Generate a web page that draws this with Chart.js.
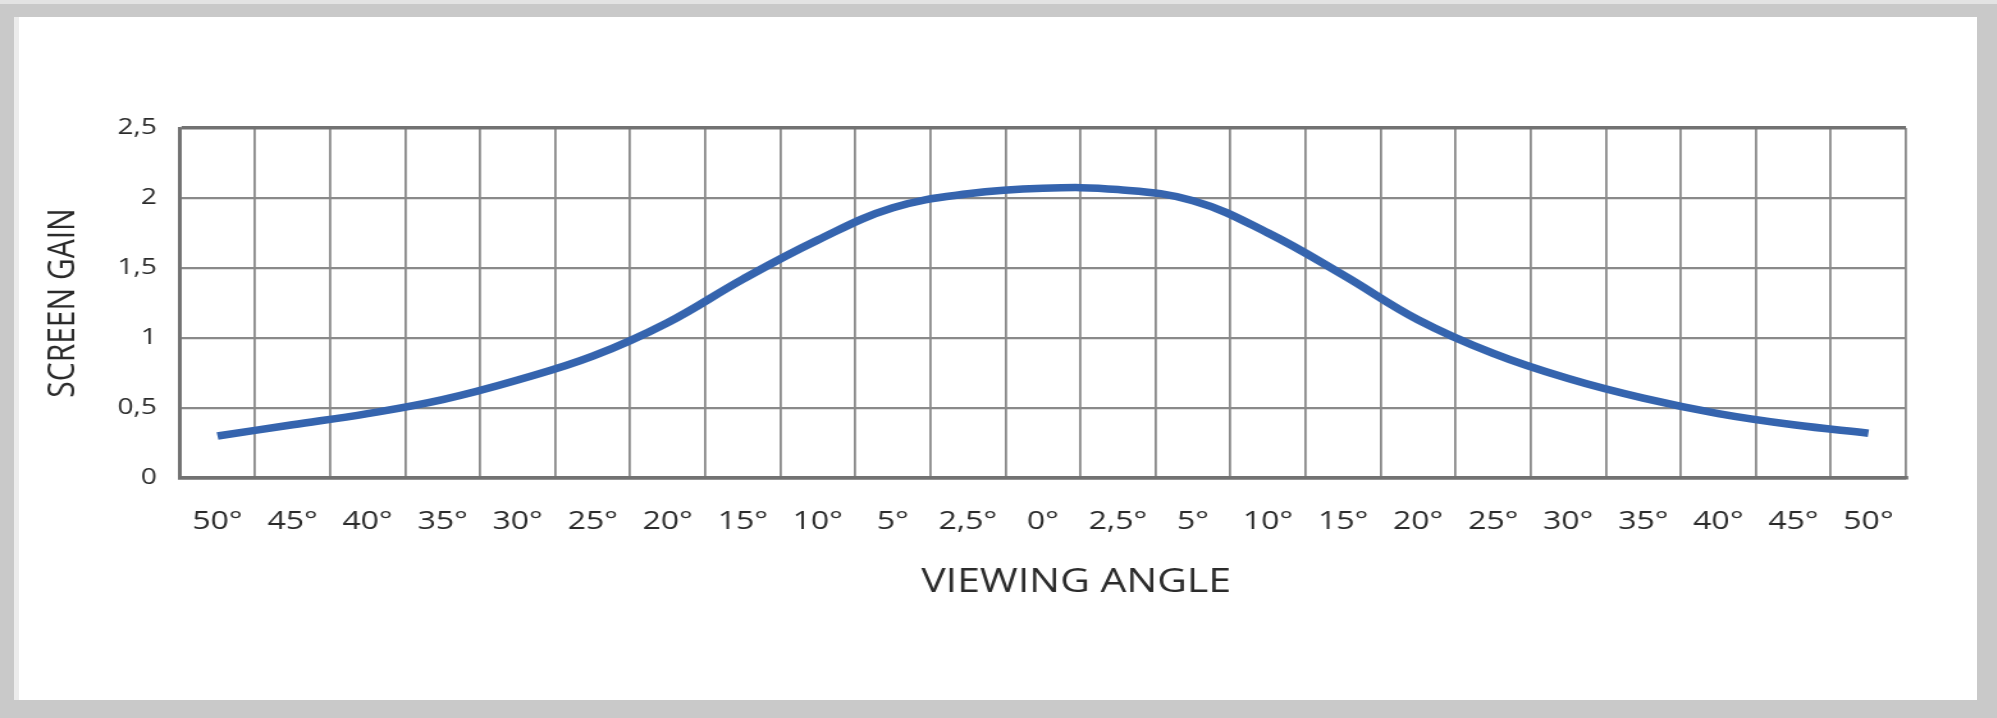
<!DOCTYPE html>
<html lang="en">
<head>
  <meta charset="UTF-8">
  <title>Screen gain vs viewing angle</title>
  <script src="https://cdn.jsdelivr.net/npm/chart.js"></script>
  <style>
    html, body { margin: 0; padding: 0; }
    body { width: 1997px; height: 718px; background: #c9c9c9; position: relative; overflow: hidden; }
    .topstrip { position: absolute; left: 0; top: 0; width: 1997px; height: 4px; background: #e3e3e3; }
    .panel { position: absolute; left: 14px; top: 17px; width: 1958px; height: 683px; background: #fff; border-left: 5px solid #ececec; }
    /* the reference is stretched sideways, so the chart is drawn narrow and scaled in x */
    .wrap { position: absolute; left: 0; top: 0; width: 1560px; height: 718px; transform: scaleX(1.28); transform-origin: 0 0; }
  </style>
</head>
<body>
<div class="topstrip"></div>
<div class="panel"></div>
<div class="wrap">
  <canvas id="gainChart" width="1560" height="718"></canvas>
</div>

<script>
  const angleLabels = ['50°', '45°', '40°', '35°', '30°', '25°', '20°', '15°', '10°', '5°', '2,5°', '0°',
                       '2,5°', '5°', '10°', '15°', '20°', '25°', '30°', '35°', '40°', '45°', '50°'];
  const gainValues = [0.30, 0.38, 0.46, 0.56, 0.70, 0.87, 1.11, 1.42, 1.70, 1.93, 2.03, 2.07,
                      2.06, 1.98, 1.75, 1.45, 1.13, 0.89, 0.71, 0.57, 0.46, 0.38, 0.32];
  const gainTickLabels = ['0', '0,5', '1', '1,5', '2', '2,5'];
  const xTitle = 'VIEWING ANGLE';

  const gridColor = '#8a8a8a';
  const edgeColor = '#727272';
  const textColor = '#2b2b2b';

  // x axis title sits a little right of the plot centre in the picture
  const xTitlePlugin = {
    id: 'xTitle',
    afterDraw(chart) {
      const { ctx, chartArea } = chart;
      ctx.save();
      ctx.font = '32px "Open Sans"';
      ctx.fillStyle = textColor;
      ctx.textAlign = 'center';
      ctx.textBaseline = 'middle';
      ctx.fillText(xTitle, (chartArea.left + chartArea.right) / 2 + 26, chartArea.bottom + 105);
      ctx.restore();
    }
  };

  const ctx = document.getElementById('gainChart').getContext('2d');
  const gainChart = new Chart(ctx, {
    type: 'line',
    data: {
      labels: angleLabels,
      datasets: [
        {
          label: 'Screen gain',
          data: gainValues,
          borderColor: '#3564ae',
          borderWidth: 7.5,
          borderCapStyle: 'butt',
          pointRadius: 0,
          tension: 0.4,
          fill: false,
        }
      ],
    },
    options: {
      responsive: false,
      animation: false,
      layout: {
        padding: { left: 0, right: 71, top: 128, bottom: 123 },
      },
      scales: {
        x: {
          offset: true,
          grid: {
            offset: true,
            drawTicks: false,
            color: ctx => (ctx.index === 0 || ctx.index === angleLabels.length) ? edgeColor : gridColor,
            lineWidth: ctx => (ctx.index === 0 || ctx.index === angleLabels.length) ? 2.8 : 1.8,
          },
          border: { color: edgeColor, width: 3.5 },
          ticks: {
            color: textColor,
            font: { family: 'Open Sans', size: 25 },
            padding: 29,
            maxRotation: 0,
            autoSkip: false,
          },
          afterFit: scale => { scale.height = 117; },
        },
        y: {
          min: 0,
          max: 2.5,
          grid: {
            drawTicks: false,
            color: ctx => (ctx.index === 0 || ctx.index === gainTickLabels.length - 1) ? edgeColor : gridColor,
            lineWidth: ctx => (ctx.index === 0 || ctx.index === gainTickLabels.length - 1) ? 3.5 : 2.3,
          },
          border: { color: edgeColor, width: 2.8 },
          ticks: {
            stepSize: 0.5,
            color: textColor,
            font: { family: 'Open Sans', size: 22 },
            padding: 18,
            callback: (value, index) => gainTickLabels[index],
          },
          title: {
            display: true,
            text: 'SCREEN GAIN',
            color: textColor,
            font: { family: 'Open Sans', size: 30 },
            padding: { top: 31, bottom: 0 },
          },
          afterFit: scale => { scale.width = 140.6; },
        },
      },
      plugins: {
        legend: { display: false },
        tooltip: { enabled: false },
      },
    },
    plugins: [xTitlePlugin],
  });
</script>
</body>
</html>
